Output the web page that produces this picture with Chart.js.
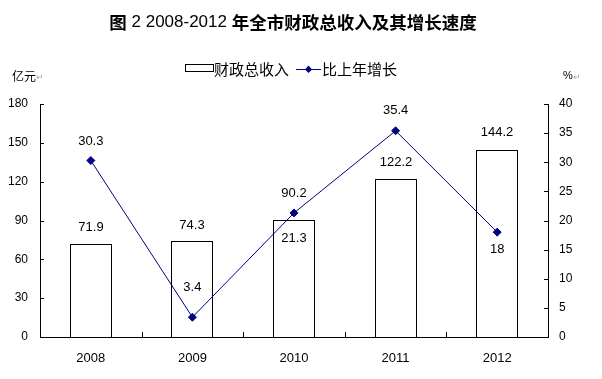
<!DOCTYPE html>
<html>
<head>
<meta charset="utf-8">
<script src="https://cdn.jsdelivr.net/npm/chart.js@4/dist/chart.umd.min.js"></script>
<style>
  html, body { margin: 0; padding: 0; background: #fff; }
  #wrap { position: relative; width: 602px; height: 379px; }
  canvas { position: absolute; left: 0; top: 0; }
</style>
</head>
<body>
<div id="wrap"><canvas id="c" width="602" height="379"></canvas></div>
<script>
// ---- data ----
const categories = ['2008', '2009', '2010', '2011', '2012'];
const revenue = [71.9, 74.3, 90.2, 122.2, 144.2];      // 亿元
const growth = [30.3, 3.4, 21.3, 35.4, 18];            // %
const leftTicks = [0, 30, 60, 90, 120, 150, 180];
const rightTicks = [0, 5, 10, 15, 20, 25, 30, 35, 40];
const seriesNames = ['财政总收入', '比上年增长'];
const titleParts = [['图', true], [' 2 2008-2012 ', false], ['年全市财政总收入及其增长速度', true]];
const unitLeft = '亿元';
const unitRight = '%';

// label placement (style only): vertical offsets of the value labels
const barLabelShift = [-17, -16, -27, -17, -18];
const growthLabelShift = [-19, -30, 25, -20, 17];

const NAVY = '#000080';
const CJK = '"Noto Sans CJK SC", "Liberation Sans", sans-serif';
const LAT = '"Liberation Sans", Arial, sans-serif';

const crispBars = {
  id: 'crispBars',
  beforeDatasetsDraw(chart) {
    const meta = chart.getDatasetMeta(0);
    meta.data.forEach(el => {
      el.x = Math.round(el.x);
      el.width = 42;
      el.y = Math.round(el.y);
      el.base = Math.round(el.base);
    });
  }
};

const extras = {
  id: 'extras',
  afterDraw(chart) {
    const ctx = chart.ctx;
    const y = chart.scales.y, y2 = chart.scales.y2;
    const ca = chart.chartArea;
    ctx.save();
    // inward tick marks
    ctx.strokeStyle = '#000';
    ctx.lineWidth = 1;
    ctx.beginPath();
    leftTicks.forEach(v => {
      const py = Math.round(y.getPixelForValue(v)) + 0.5;
      ctx.moveTo(ca.left, py); ctx.lineTo(ca.left + 4, py);
    });
    rightTicks.forEach(v => {
      const py = Math.round(y2.getPixelForValue(v)) + 0.5;
      ctx.moveTo(ca.right - 4, py); ctx.lineTo(ca.right, py);
    });
    const step = (ca.right - ca.left) / categories.length;
    for (let i = 1; i < categories.length; i++) {
      const px = Math.round(ca.left + step * i) + 0.5;
      ctx.moveTo(px, ca.bottom); ctx.lineTo(px, ca.bottom - 5);
    }
    ctx.stroke();

    // data labels
    ctx.fillStyle = '#000';
    ctx.font = '13px ' + LAT;
    ctx.textAlign = 'center';
    ctx.textBaseline = 'middle';
    const barMeta = chart.getDatasetMeta(0);
    barMeta.data.forEach((bar, i) => {
      ctx.fillText(String(revenue[i]), bar.x, bar.y + barLabelShift[i]);
    });
    const lineMeta = chart.getDatasetMeta(1);
    lineMeta.data.forEach((pt, i) => {
      ctx.fillText(String(growth[i]), pt.x, pt.y + growthLabelShift[i]);
    });

    // title (mixed bold / regular)
    ctx.textBaseline = 'middle';
    ctx.textAlign = 'left';
    const fonts = titleParts.map(p => p[1] ? 'bold 17.5px ' + CJK : '17px ' + LAT);
    let total = 0;
    const widths = titleParts.map((p, i) => { ctx.font = fonts[i]; const w = ctx.measureText(p[0]).width; total += w; return w; });
    let tx = 293 - total / 2;
    titleParts.forEach((p, i) => {
      ctx.font = fonts[i];
      ctx.fillText(p[0], tx, 22);
      tx += widths[i];
    });

    // legend
    const ly = 69;
    ctx.strokeStyle = '#000';
    ctx.lineWidth = 1;
    ctx.fillStyle = '#fff';
    ctx.fillRect(185.5, ly - 4.5, 28, 7);
    ctx.strokeRect(185.5, ly - 4.5, 28, 7);
    ctx.fillStyle = '#000';
    ctx.font = '15px ' + CJK;
    ctx.fillText(seriesNames[0], 214, ly);
    ctx.strokeStyle = NAVY;
    ctx.beginPath();
    ctx.moveTo(296, ly + 0.5); ctx.lineTo(321, ly + 0.5);
    ctx.stroke();
    ctx.fillStyle = NAVY;
    ctx.beginPath();
    ctx.moveTo(308.5, ly - 3.5); ctx.lineTo(312, ly + 0.5); ctx.lineTo(308.5, ly + 4); ctx.lineTo(305, ly + 0.5);
    ctx.closePath(); ctx.fill();
    ctx.fillStyle = '#000';
    ctx.fillText(seriesNames[1], 322, ly);

    // units
    ctx.font = '12px ' + CJK;
    ctx.fillText(unitLeft, 12, 76);
    let w = ctx.measureText(unitLeft).width;
    ctx.fillStyle = '#aaa';
    ctx.font = '9px ' + CJK;
    ctx.fillText('↵', 12 + w, 77);
    ctx.fillStyle = '#000';
    ctx.font = '11px ' + LAT;
    ctx.fillText(unitRight, 563, 76);
    w = ctx.measureText(unitRight).width;
    ctx.fillStyle = '#aaa';
    ctx.font = '9px ' + CJK;
    ctx.fillText('↵', 563 + w, 77);
    ctx.restore();
  }
};

new Chart(document.getElementById('c'), {
  data: {
    labels: categories,
    datasets: [
      {
        type: 'bar',
        label: seriesNames[0],
        data: revenue,
        yAxisID: 'y',
        backgroundColor: '#ffffff',
        borderColor: '#000000',
        borderWidth: 1,
        barPercentage: 0.41,
        categoryPercentage: 1,
        order: 2
      },
      {
        type: 'line',
        label: seriesNames[1],
        data: growth,
        yAxisID: 'y2',
        borderColor: NAVY,
        backgroundColor: NAVY,
        borderWidth: 1,
        pointStyle: 'rectRot',
        pointRadius: 4,
        pointBackgroundColor: NAVY,
        pointBorderColor: NAVY,
        tension: 0,
        order: 1
      }
    ]
  },
  options: {
    responsive: false,
    animation: false,
    devicePixelRatio: 1,
    layout: { padding: { top: 104, left: 0, right: 0, bottom: 0 } },
    plugins: { legend: { display: false }, title: { display: false }, tooltip: { enabled: false } },
    scales: {
      x: {
        grid: { display: false, drawTicks: false },
        border: { display: true, color: '#000', width: 1 },
        ticks: { color: '#000', font: { family: LAT, size: 13 }, padding: 14, maxRotation: 0 },
        afterFit(s) { s.height = 379 - 337; }
      },
      y: {
        position: 'left',
        min: 0, max: 180,
        afterBuildTicks(s) { s.ticks = leftTicks.map(v => ({ value: v })); },
        grid: { display: false, drawTicks: false },
        border: { display: true, color: '#000', width: 1 },
        ticks: { color: '#000', font: { family: LAT, size: 12 }, padding: 12 },
        afterFit(s) { s.width = 40; }
      },
      y2: {
        position: 'right',
        min: 0, max: 40,
        afterBuildTicks(s) { s.ticks = rightTicks.map(v => ({ value: v })); },
        grid: { display: false, drawTicks: false },
        border: { display: true, color: '#000', width: 1 },
        ticks: { color: '#000', font: { family: LAT, size: 12 }, padding: 11 },
        afterFit(s) { s.width = 602 - 548; }
      }
    }
  },
  plugins: [crispBars, extras]
});
</script>
</body>
</html>
